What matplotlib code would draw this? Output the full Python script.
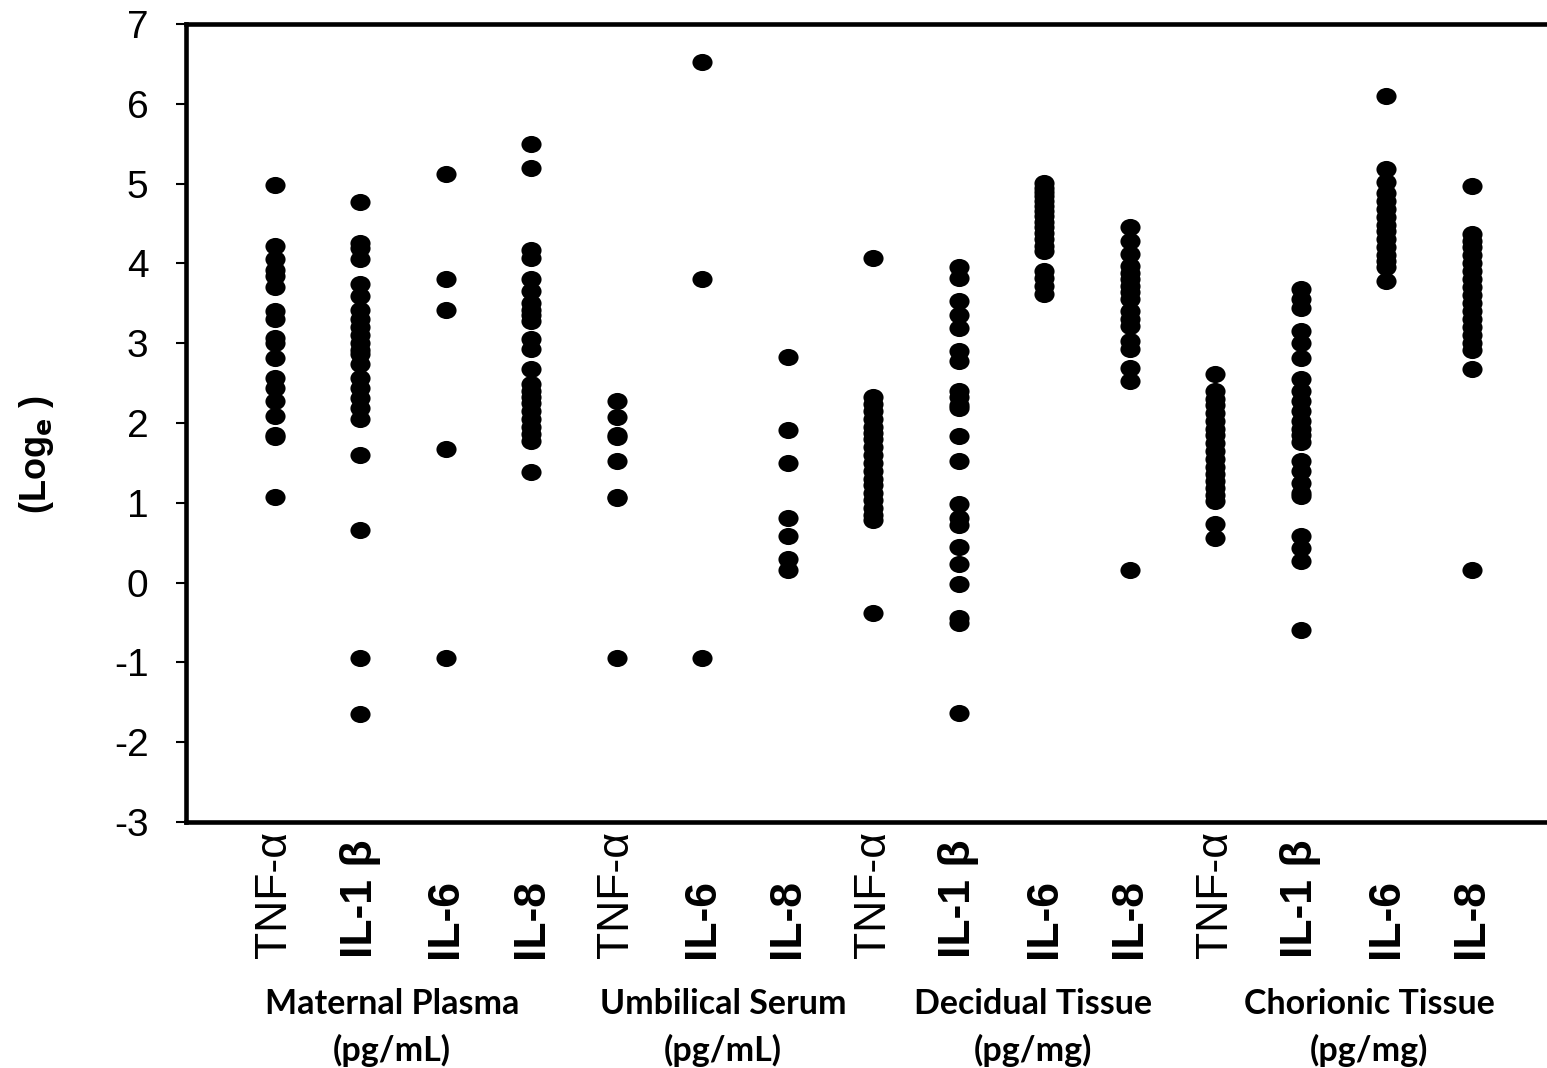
import matplotlib
matplotlib.use("Agg")
import matplotlib.pyplot as plt
from matplotlib.path import Path
from matplotlib.transforms import Affine2D


# cytokine labels, one per column
cytokines = ["TNF-α", "IL-1 β", "IL-6", "IL-8",
             "TNF-α", "IL-6", "IL-8",
             "TNF-α", "IL-1 β", "IL-6", "IL-8",
             "TNF-α", "IL-1 β", "IL-6", "IL-8"]

groups = ["Maternal Plasma\n(pg/mL)", "Umbilical Serum\n(pg/mL)",
          "Decidual Tissue\n(pg/mg)", "Chorionic Tissue\n(pg/mg)"]

# values (log e)
mp_tnf = [4.98, 4.22, 4.05, 3.92, 3.84, 3.70, 3.40, 3.30, 3.06, 3.00, 2.81, 2.57, 2.44, 2.27, 2.09, 1.85, 1.83, 1.07]
mp_il1b = [4.77, 4.25, 4.19, 4.06, 3.74, 3.59, 3.41, 3.30, 3.20, 3.10, 3.00, 2.92, 2.86, 2.74, 2.56, 2.44, 2.31, 2.19, 2.05, 1.60, 0.66, -0.95, -1.65]
mp_il6 = [5.12, 3.80, 3.42, 1.68, -0.95]
mp_il8 = [5.49, 5.20, 4.17, 4.07, 3.80, 3.66, 3.50, 3.42, 3.35, 3.28, 3.05, 2.93, 2.68, 2.49, 2.40, 2.32, 2.25, 2.15, 2.05, 1.95, 1.86, 1.78, 1.39]

us_tnf = [2.27, 2.08, 1.85, 1.83, 1.53, 1.07, 1.06, -0.95]
us_il6 = [6.52, 3.80, -0.95]
us_il8 = [2.83, 1.91, 1.50, 0.81, 0.58, 0.29, 0.16]

dt_tnf = [4.07, 2.33, 2.24, 2.15, 2.05, 1.95, 1.88, 1.80, 1.70, 1.60, 1.50, 1.40, 1.30, 1.22, 1.12, 1.03, 0.93, 0.85, 0.78, -0.38]
dt_il1b = [3.95, 3.82, 3.53, 3.35, 3.19, 2.90, 2.78, 2.40, 2.32, 2.22, 2.19, 1.84, 1.53, 0.98, 0.81, 0.72, 0.45, 0.23, -0.02, -0.44, -0.51, -1.63]
dt_il6 = [5.01, 4.95, 4.90, 4.84, 4.78, 4.72, 4.66, 4.60, 4.52, 4.45, 4.38, 4.30, 4.22, 4.16, 3.91, 3.82, 3.72, 3.62]
dt_il8 = [4.45, 4.28, 4.12, 3.97, 3.88, 3.80, 3.72, 3.64, 3.55, 3.40, 3.30, 3.22, 3.03, 2.93, 2.69, 2.53, 0.16]

ct_tnf = [2.62, 2.40, 2.30, 2.22, 2.12, 2.02, 1.93, 1.85, 1.75, 1.65, 1.55, 1.45, 1.36, 1.27, 1.18, 1.10, 1.02, 0.73, 0.56]
ct_il1b = [3.68, 3.56, 3.44, 3.15, 3.00, 2.81, 2.55, 2.40, 2.27, 2.15, 2.03, 1.93, 1.85, 1.76, 1.52, 1.40, 1.25, 1.12, 1.08, 0.58, 0.43, 0.27, -0.59]
ct_il6 = [6.10, 5.18, 5.02, 4.88, 4.78, 4.68, 4.58, 4.48, 4.40, 4.30, 4.20, 4.10, 4.03, 3.95, 3.78]
ct_il8 = [4.97, 4.37, 4.28, 4.20, 4.10, 4.00, 3.90, 3.80, 3.70, 3.60, 3.50, 3.40, 3.30, 3.20, 3.10, 3.00, 2.92, 2.68, 0.16]

columns = [mp_tnf, mp_il1b, mp_il6, mp_il8,
           us_tnf, us_il6, us_il8,
           dt_tnf, dt_il1b, dt_il6, dt_il8,
           ct_tnf, ct_il1b, ct_il6, ct_il8]


plt.rcParams['font.family'] = ['Liberation Sans', 'DejaVu Sans']
plt.rcParams['mathtext.default'] = 'bf'
plt.rcParams['axes.unicode_minus'] = False

fig = plt.figure(figsize=(15.47, 10.68), dpi=100)
# axes box runs off the right edge like in the original
ax = fig.add_axes([186 / 1547, 246 / 1068, 1.0, 798 / 1068])

# slightly flattened dots
dot = Path.unit_circle().transformed(Affine2D().scale(1.0, 0.85))

for i, vals in enumerate(columns):
    ax.plot([i] * len(vals), vals, linestyle='none', marker=dot,
            markersize=14.5, color='black', markeredgewidth=0)

ax.set_xlim(-1.04, -1.04 + 1547 / 85.5)
ax.set_ylim(-3, 7)
ax.set_yticks(range(-3, 8))
ax.tick_params(axis='y', direction='out', length=7, width=1.5, labelsize=28, pad=20)

# cytokine names, rotated and bottom aligned
ax.set_xticks(range(len(cytokines)))
ax.set_xticklabels(cytokines, rotation=90, va='bottom', ha='center', fontsize=32)
ax.tick_params(axis='x', length=0, pad=98)
for lab in ax.get_xticklabels():
    if lab.get_text().startswith('IL'):
        lab.set_fontweight('bold')

for side in ['left', 'bottom', 'top']:
    ax.spines[side].set_linewidth(3.3)
ax.spines['right'].set_visible(False)

ax.set_ylabel('(Log$_{e}$ )', fontsize=26, fontweight='bold')
ax.yaxis.set_label_coords(-0.084, 0.46)

# tissue group captions under the cytokine names
group_x = [1.37, 5.24, 8.87, 12.8]
for gx, g in zip(group_x, groups):
    ax.text(gx, -0.208, g, transform=ax.get_xaxis_transform(), ha='center', va='top',
            fontsize=24.5, fontweight='bold', family='Lato', linespacing=1.5)

fig.savefig('out.png', dpi=100)
